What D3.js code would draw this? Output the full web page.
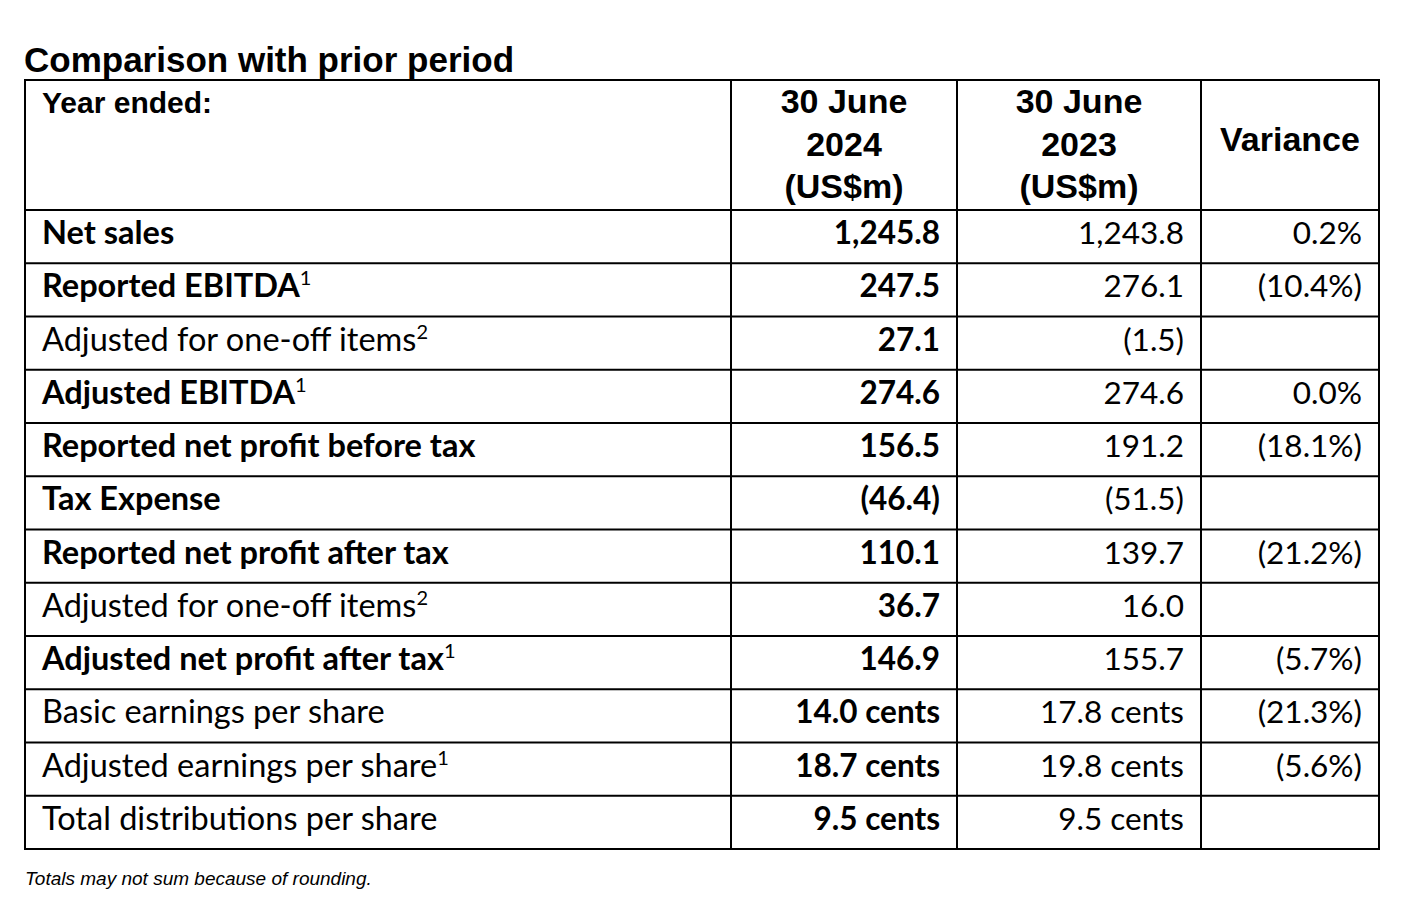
<!DOCTYPE html>
<html lang="en">
<head>
    <meta charset="UTF-8">
    <title>Comparison with prior period</title>
    <style>
        body { margin: 0; background: #fff; }
    </style>
</head>
<body>
    <div id="table-container"></div>

    <script type="text/javascript" src="https://d3js.org/d3.v7.min.js"></script>
    <script type="text/javascript">
        // Table contents.
        var headers = ["Year ended:", "30 June|2024|(US$m)", "30 June|2023|(US$m)", "Variance"];
        var labels = ["Net sales", "Reported EBITDA", "Adjusted for one-off items", "Adjusted EBITDA",
            "Reported net profit before tax", "Tax Expense", "Reported net profit after tax",
            "Adjusted for one-off items", "Adjusted net profit after tax", "Basic earnings per share",
            "Adjusted earnings per share", "Total distributions per share"];
        var labelBold = [true, true, false, true, true, true, true, false, true, false, false, false];
        var footnoteMarks = ["", "1", "2", "1", "", "", "", "2", "1", "", "1", ""];
        var values2024 = ["1,245.8", "247.5", "27.1", "274.6", "156.5", "(46.4)", "110.1", "36.7",
            "146.9", "14.0 cents", "18.7 cents", "9.5 cents"];
        var values2023 = ["1,243.8", "276.1", "(1.5)", "274.6", "191.2", "(51.5)", "139.7", "16.0",
            "155.7", "17.8 cents", "19.8 cents", "9.5 cents"];
        var variance = ["0.2%", "(10.4%)", "", "0.0%", "(18.1%)", "", "(21.2%)", "", "(5.7%)",
            "(21.3%)", "(5.6%)", ""];

        var width = 1406, height = 902;
        // note: "top" would clash with window.top, so tableTop
        var tableLeft = 25, tableRight = 1379, tableTop = 80, headerBottom = 210, tableBottom = 849;
        var colEdges = [tableLeft, 731, 957, 1201, tableRight];
        var pad = 17;

        var bodyFont = "Lato, 'Open Sans', sans-serif";
        var headFont = "'Liberation Sans', Arial, sans-serif";

        var svg = d3.select("#table-container")
            .append("svg")
            .attr("width", width)
            .attr("height", height);

        // Row positions.
        var yRow = d3.scaleLinear()
            .domain([0, labels.length])
            .range([headerBottom, tableBottom]);

        // Title.
        svg.append("text")
            .attr("x", 24)
            .attr("y", 72)
            .attr("font-family", headFont)
            .attr("font-weight", "bold")
            .attr("font-size", 35)
            .text("Comparison with prior period");

        // Header cells.
        var head = svg.append("g").attr("class", "header")
            .attr("font-family", headFont)
            .attr("font-weight", "bold");

        head.append("text")
            .attr("x", tableLeft + pad)
            .attr("y", 113)
            .attr("font-size", 30)
            .text(headers[0]);

        [1, 2].forEach(function(c) {
            var cx = (colEdges[c] + colEdges[c + 1]) / 2;
            headers[c].split("|").forEach(function(line, i) {
                head.append("text")
                    .attr("x", cx)
                    .attr("y", 113 + i * 42.5)
                    .attr("text-anchor", "middle")
                    .attr("font-size", 34)
                    .text(line);
            });
        });

        head.append("text")
            .attr("x", (colEdges[3] + colEdges[4]) / 2)
            .attr("y", 151)
            .attr("text-anchor", "middle")
            .attr("font-size", 34)
            .text(headers[3]);

        // Body rows.
        var rows = svg.append("g").attr("class", "rows")
            .attr("font-family", bodyFont)
            .attr("font-size", 31.5)
            .selectAll("g")
            .data(labels)
            .enter()
            .append("g")
            .attr("transform", function(d, i) { return "translate(0," + (yRow(i) + 34) + ")"; });

        // Row labels, a bit larger to match the original's widths.
        var lab = rows.append("text")
            .attr("x", tableLeft + pad)
            .attr("font-size", 32.5)
            .attr("font-weight", function(d, i) { return labelBold[i] ? "bold" : "normal"; });
        lab.append("tspan").text(function(d) { return d; });
        lab.append("tspan")
            .attr("dy", -12)
            .attr("font-size", 20)
            .attr("font-weight", "normal")
            .text(function(d, i) { return footnoteMarks[i]; });

        rows.append("text")
            .attr("x", colEdges[2] - pad)
            .attr("text-anchor", "end")
            .attr("font-weight", "bold")
            .text(function(d, i) { return values2024[i]; });

        rows.append("text")
            .attr("x", colEdges[3] - pad)
            .attr("text-anchor", "end")
            .text(function(d, i) { return values2023[i]; });

        rows.append("text")
            .attr("x", colEdges[4] - pad)
            .attr("text-anchor", "end")
            .text(function(d, i) { return variance[i]; });

        // Grid lines.
        var grid = svg.append("g").attr("class", "grid")
            .attr("stroke", "#000")
            .attr("stroke-width", 2);

        var hLines = [tableTop].concat(d3.range(labels.length + 1).map(function(i) { return yRow(i); }));
        grid.selectAll("line.h")
            .data(hLines)
            .enter()
            .append("line")
            .attr("class", "h")
            .attr("x1", tableLeft).attr("x2", tableRight)
            .attr("y1", function(d) { return d; })
            .attr("y2", function(d) { return d; });

        grid.selectAll("line.v")
            .data(colEdges)
            .enter()
            .append("line")
            .attr("class", "v")
            .attr("x1", function(d) { return d; })
            .attr("x2", function(d) { return d; })
            .attr("y1", tableTop - 1)
            .attr("y2", tableBottom + 1);

        // Footnote.
        svg.append("text")
            .attr("x", 25)
            .attr("y", 885)
            .attr("font-family", headFont)
            .attr("font-style", "italic")
            .attr("font-size", 19)
            .text("Totals may not sum because of rounding.");
    </script>
</body>
</html>
